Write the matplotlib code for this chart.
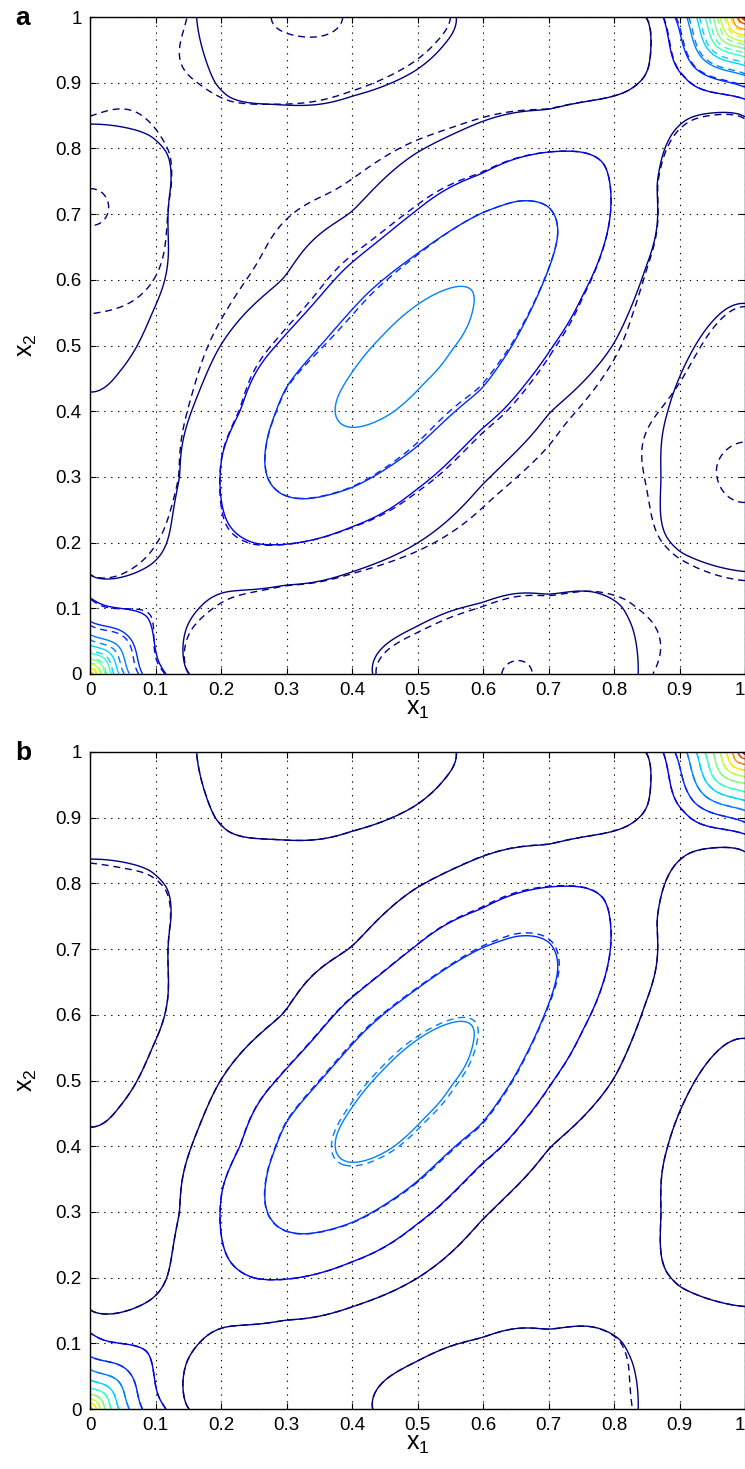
import numpy as np
import matplotlib
matplotlib.use("Agg")
import matplotlib.pyplot as plt
from matplotlib.colors import Normalize

plt.rcParams['font.family'] = ['Liberation Sans', 'DejaVu Sans']
plt.rcParams['mathtext.fontset'] = 'custom'
plt.rcParams['mathtext.rm'] = 'Liberation Sans'
plt.rcParams['mathtext.it'] = 'Liberation Sans'

# contour traces (x1, x2), one list per drawn line
edge_upper = [(0.0, 0.138), (0.05, 0.148), (0.094, 0.166), (0.116, 0.197), (0.127, 0.248),
              (0.14, 0.30), (0.155, 0.40), (0.196, 0.495), (0.298, 0.600), (0.40, 0.70),
              (0.496, 0.792), (0.598, 0.841), (0.70, 0.856), (0.802, 0.881), (0.835, 0.90),
              (0.853, 0.922), (0.855, 0.998)]
edge_lower = [(0.14, 0.0), (0.145, 0.07), (0.168, 0.10), (0.206, 0.126), (0.298, 0.138),
              (0.40, 0.156), (0.496, 0.197), (0.598, 0.289), (0.70, 0.40), (0.80, 0.502),
              (0.847, 0.617), (0.863, 0.744), (0.883, 0.81), (0.903, 0.836), (1.0, 0.853)]
lobe_left = [(0.0, 0.836), (0.05, 0.832), (0.094, 0.823), (0.12, 0.795), (0.125, 0.744),
             (0.12, 0.642), (0.094, 0.55), (0.07, 0.495), (0.043, 0.46), (0.0, 0.426)]
lobe_top = [(0.163, 0.998), (0.175, 0.94), (0.188, 0.897), (0.21, 0.876), (0.28, 0.868),
            (0.40, 0.881), (0.496, 0.917), (0.54, 0.96), (0.562, 0.998)]
lobe_right = [(1.0, 0.566), (0.954, 0.54), (0.924, 0.50), (0.883, 0.40), (0.873, 0.299),
              (0.878, 0.207), (0.898, 0.182), (0.939, 0.169), (1.0, 0.156)]
lobe_bottom = [(0.43, 0.0), (0.45, 0.044), (0.496, 0.07), (0.547, 0.095), (0.598, 0.106),
               (0.70, 0.116), (0.766, 0.126), (0.817, 0.108), (0.83, 0.07), (0.836, 0.0)]
ring2 = [(0.287, 0.502), (0.232, 0.40), (0.201, 0.334), (0.198, 0.289), (0.211, 0.227),
         (0.252, 0.197), (0.298, 0.197), (0.40, 0.225), (0.496, 0.28), (0.598, 0.375),
         (0.705, 0.498), (0.751, 0.576), (0.781, 0.642), (0.796, 0.719), (0.786, 0.78),
         (0.751, 0.795), (0.70, 0.795), (0.598, 0.759), (0.496, 0.703), (0.389, 0.617)]
ring3 = [(0.354, 0.502), (0.298, 0.436), (0.272, 0.37), (0.27, 0.299), (0.293, 0.273),
         (0.328, 0.266), (0.40, 0.283), (0.496, 0.343), (0.598, 0.431), (0.644, 0.498),
         (0.69, 0.591), (0.715, 0.668), (0.70, 0.713), (0.649, 0.721), (0.598, 0.703),
         (0.496, 0.637), (0.425, 0.581)]
ring4 = [(0.374, 0.398), (0.397, 0.375), (0.42, 0.378), (0.463, 0.398), (0.509, 0.444),
         (0.55, 0.495), (0.583, 0.556), (0.588, 0.586), (0.565, 0.591), (0.545, 0.586),
         (0.499, 0.561), (0.448, 0.515), (0.397, 0.454), (0.377, 0.421)]

# spot values between the lines (peak, lobe floors, saddles, plateaus)
spot_xy = [(0.48, 0.48), (0.44, 0.445), (0.53, 0.535),
           (0.0, 0.64), (0.05, 0.68), (0.35, 1.0), (0.33, 0.95), (1.0, 0.36), (0.95, 0.32),
           (0.64, 0.0), (0.68, 0.05),
           (0.13, 0.13), (0.87, 0.87), (0.14, 0.86), (0.86, 0.14),
           (0.0, 1.0), (1.0, 0.0), (0.06, 0.94), (0.94, 0.06),
           (0.0, 0.3), (0.06, 0.3), (0.3, 0.0), (0.3, 0.06), (0.17, 0.7), (0.3, 0.78),
           (0.7, 0.3), (0.78, 0.3), (1.0, 0.7), (0.95, 0.7), (0.7, 1.0), (0.7, 0.95),
           (0.0, 0.0), (1.0, 1.0)]
spot_val = [4.4, 4.3, 4.3,
            -0.6, -0.55, -0.6, -0.5, -0.6, -0.5,
            -0.6, -0.5,
            1.4, 1.4, 0.4, 0.4,
            0.4, 0.4, 0.4, 0.4,
            0.5, 0.5, 0.5, 0.5, 0.5, 0.5,
            0.5, 0.5, 0.5, 0.5, 0.5, 0.5,
            10.6, 12.6]

# corner rings: distance from the corner where each level meets an edge / the diagonal
corner0_levels = [2, 3, 4, 5, 6, 7, 8, 9, 10]
corner0_edge = [0.116, 0.080, 0.060, 0.044, 0.032, 0.023, 0.015, 0.009, 0.004]
corner0_diag = [0.087, 0.058, 0.043, 0.031, 0.023, 0.016, 0.011, 0.0065, 0.003]
corner1_levels = [2, 3, 4, 5, 6, 7, 8, 9, 10, 11, 12]
corner1_edge = [0.125, 0.107, 0.089, 0.074, 0.061, 0.048, 0.038, 0.028, 0.019, 0.010, 0.004]
corner1_diag = [0.092, 0.077, 0.064, 0.053, 0.044, 0.035, 0.027, 0.020, 0.014, 0.007, 0.003]

# where the approximations depart from the field:
# (x1, x2, amount, spread along the diagonal, spread across it)
approx_a = [(0.0, 0.72, -0.58, 0.045, 0.045), (0.27, 1.0, -0.45, 0.05, 0.05),
            (0.37, 1.0, -0.45, 0.05, 0.05),
            (1.0, 0.29, -0.6, 0.07, 0.07), (0.65, 0.0, -0.48, 0.045, 0.045),
            (0.0, 0.5, 0.45, 0.07, 0.07), (0.14, 0.14, 0.25, 0.06, 0.06),
            (0.0, 0.0, -0.8, 0.05, 0.05), (1.0, 1.0, -0.8, 0.05, 0.05),
            (0.48, 0.48, -0.45, 0.09, 0.07), (0.86, 0.35, -0.25, 0.05, 0.05),
            (0.84, 0.05, -0.25, 0.04, 0.04), (0.15, 0.93, -0.2, 0.04, 0.04),
            (0.06, 0.85, -0.15, 0.04, 0.04), (0.97, 0.80, 0.15, 0.05, 0.05),
            (0.33, 0.68, 0.35, 0.20, 0.07), (0.68, 0.32, 0.3, 0.18, 0.07)]
approx_b = [(0.48, 0.48, 0.07, 0.12, 0.09), (0.05, 0.83, 0.05, 0.05, 0.05),
            (0.84, 0.03, 0.06, 0.04, 0.04), (0.65, 0.72, 0.05, 0.06, 0.06)]

levels = np.arange(-1, 14)


def gather():
    px, py, pv, ps = [], [], [], []
    for pts, lev in [(edge_upper, 1), (edge_lower, 1), (lobe_left, 0), (lobe_top, 0),
                     (lobe_right, 0), (lobe_bottom, 0), (ring2, 2), (ring3, 3), (ring4, 4)]:
        for x, y in pts:
            px.append(x); py.append(y); pv.append(lev); ps.append(1.4e-3)
    for (x, y), v in zip(spot_xy, spot_val):
        px.append(x); py.append(y); pv.append(v); ps.append(1.4e-3)
    for lev, r, d in zip(corner0_levels, corner0_edge, corner0_diag):
        for x, y in [(r, 0.0), (0.0, r), (d, d)]:
            px.append(x); py.append(y); pv.append(lev); ps.append(2e-5)
    for lev, r, d in zip(corner1_levels, corner1_edge, corner1_diag):
        for x, y in [(1 - r, 1.0), (1.0, 1 - r), (1 - d, 1 - d)]:
            px.append(x); py.append(y); pv.append(lev); ps.append(2e-5)
    return np.array(px), np.array(py), np.array(pv, dtype=float), np.array(ps)


def kern(r):
    with np.errstate(divide='ignore', invalid='ignore'):
        k = r ** 2 * np.log(r)
    return np.where(r > 0, k, 0.0)


def thin_plate(px, py, pv, ps):
    n = len(px)
    r = np.hypot(px[:, None] - px[None, :], py[:, None] - py[None, :])
    P = np.column_stack([np.ones(n), px, py])
    A = np.zeros((n + 3, n + 3))
    A[:n, :n] = kern(r) + np.diag(ps)
    A[:n, n:] = P
    A[n:, :n] = P.T
    sol = np.linalg.solve(A, np.concatenate([pv, np.zeros(3)]))
    return sol[:n], sol[n:]


px, py, pv, ps = gather()
w, a = thin_plate(px, py, pv, ps)
g = np.linspace(0, 1, 251)
X1, X2 = np.meshgrid(g, g)
rr = np.hypot(X1.ravel()[:, None] - px[None, :], X2.ravel()[:, None] - py[None, :])
F = (kern(rr) @ w + a[0] + a[1] * X1.ravel() + a[2] * X2.ravel()).reshape(X1.shape)


def approx(F, bumps):
    G = F.copy()
    for cx, cy, amp, s_al, s_ac in bumps:
        al = ((X1 - cx) + (X2 - cy)) / np.sqrt(2)
        ac = ((X2 - cy) - (X1 - cx)) / np.sqrt(2)
        G += amp * np.exp(-al ** 2 / (2 * s_al ** 2) - ac ** 2 / (2 * s_ac ** 2))
    return G


norm = Normalize(vmin=1, vmax=13)

fig = plt.figure(figsize=(7.45, 14.69), dpi=100)
axa = fig.add_axes([90 / 745, 1 - 674 / 1469, 655 / 745, 657 / 1469])
axb = fig.add_axes([90 / 745, 1 - 1409 / 1469, 655 / 745, 657 / 1469])

for ax, bumps in [(axa, approx_a), (axb, approx_b)]:
    Fd = approx(F, bumps)
    cd = ax.contour(X1, X2, Fd, levels=levels, cmap='jet', norm=norm, linewidths=1.0)
    cd.set_linestyle((0, (5, 3.5)))
    ax.contour(X1, X2, F, levels=levels, cmap='jet', norm=norm, linewidths=1.0,
               linestyles='solid')
    ax.set_xlim(0, 1)
    ax.set_ylim(0, 1)
    ticks = np.round(np.arange(0, 1.01, 0.1), 1)
    labs = ['0'] + ['%.1f' % t for t in ticks[1:-1]] + ['1']
    ax.set_xticks(ticks)
    ax.set_xticklabels(labs)
    ax.get_xticklabels()[-1].set_horizontalalignment('right')
    ax.set_yticks(ticks)
    ax.set_yticklabels(labs)
    ax.tick_params(direction='in', length=4, width=0.8, top=True, right=True,
                   labelsize=13.5, pad=6)
    ax.grid(True, color='k', linestyle=(0, (1.2, 5)), linewidth=0.8)
    for sp in ax.spines.values():
        sp.set_linewidth(1.0)
    ax.set_xlabel(r'x$_1$', fontsize=18)
    ax.set_ylabel(r'x$_2$', fontsize=18)
    ax.xaxis.set_label_coords(0.5, -0.035)
    ax.yaxis.set_label_coords(-0.078, 0.5)

fig.text(0.02, 1 - 25 / 1469, 'a', fontsize=19, fontweight='bold')
fig.text(0.02, 1 - 760 / 1469, 'b', fontsize=19, fontweight='bold')

fig.savefig('out.png', dpi=100)
